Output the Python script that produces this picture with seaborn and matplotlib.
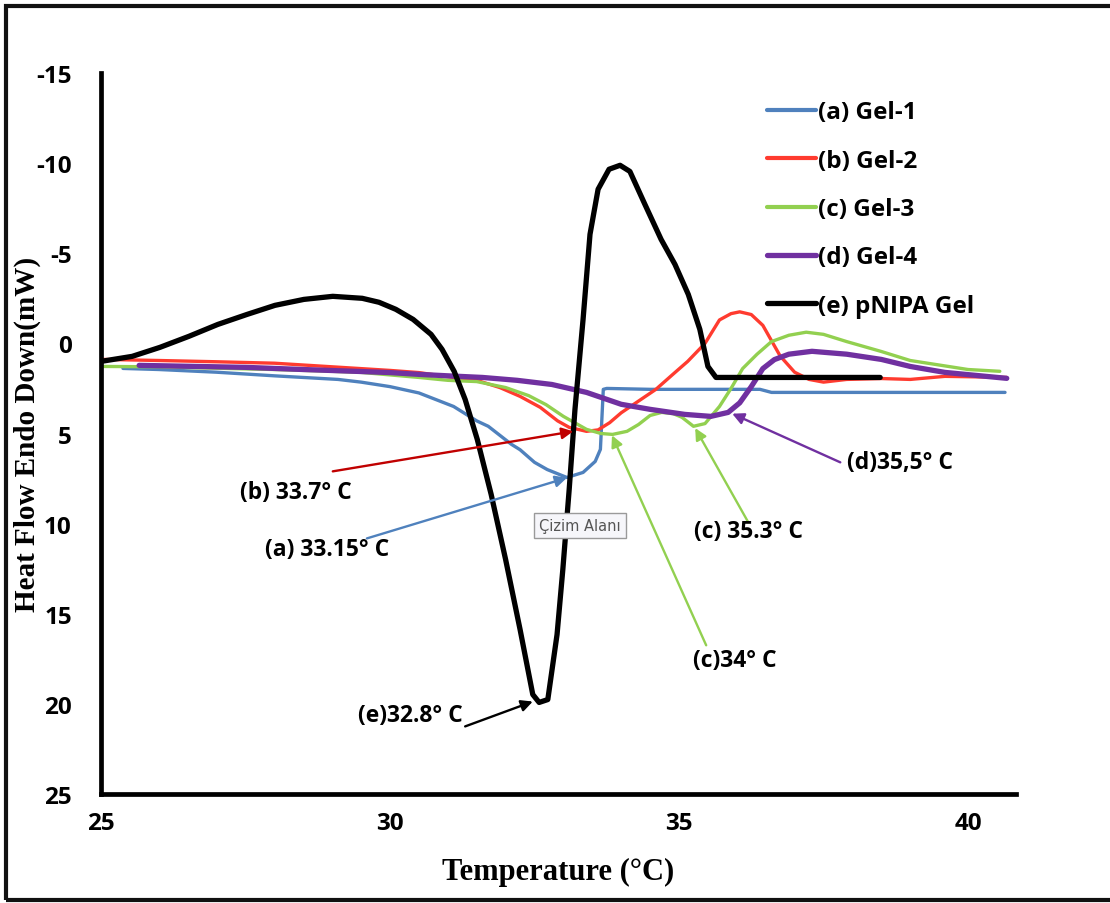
import matplotlib
matplotlib.use("Agg")
import matplotlib.pyplot as plt
import seaborn as sns
from matplotlib.patches import Rectangle

# ---- DSC thermograms: temperature (°C) vs heat flow (mW), endo down ----
temp_a = [25.38, 26.0, 27.0, 28.0, 29.1, 29.5, 30.0, 30.5, 31.1, 31.5, 31.7, 32.1,
          32.25, 32.5, 32.72, 33.06, 33.34, 33.55, 33.64, 33.69, 33.75, 34.5, 36.4,
          36.6, 40.64]
flow_a = [1.39, 1.45, 1.6, 1.8, 2.0, 2.15, 2.4, 2.75, 3.5, 4.3, 4.6, 5.6,
          5.9, 6.6, 7.0, 7.44, 7.16, 6.55, 5.88, 2.55, 2.5, 2.55, 2.55,
          2.72, 2.72]

temp_b = [25.05, 26.0, 27.0, 28.0, 29.0, 30.0, 30.5, 31.0, 31.5, 31.9, 32.25, 32.6,
          32.9, 33.1, 33.4, 33.6, 33.8, 34.0, 34.3, 34.6, 34.9, 35.15, 35.45, 35.7,
          35.9, 36.05, 36.25, 36.45, 36.75, 37.0, 37.25, 37.5, 37.9, 38.5, 39.0,
          39.6, 40.0, 40.67]
flow_b = [0.89, 0.95, 1.02, 1.1, 1.3, 1.5, 1.62, 1.85, 2.05, 2.45, 2.94, 3.55,
          4.3, 4.66, 4.88, 4.8, 4.4, 3.85, 3.2, 2.55, 1.7, 1.0, 0.0, -1.3,
          -1.65, -1.75, -1.6, -1.0, 0.7, 1.6, 2.0, 2.15, 2.0, 1.95, 2.0,
          1.83, 1.85, 1.89]

temp_c = [25.05, 26.0, 27.0, 28.0, 29.0, 29.5, 30.0, 30.5, 31.0, 31.5, 32.0, 32.4,
          32.7, 33.0, 33.4, 33.65, 33.85, 34.1, 34.3, 34.5, 34.7, 34.9, 35.05,
          35.25, 35.45, 35.7, 35.9, 36.1, 36.35, 36.6, 36.9, 37.2, 37.5, 37.9,
          38.5, 39.0, 39.5, 40.0, 40.55]
flow_c = [1.28, 1.3, 1.38, 1.45, 1.55, 1.61, 1.75, 1.89, 2.05, 2.12, 2.45, 2.9,
          3.4, 4.05, 4.77, 5.0, 5.05, 4.88, 4.5, 4.0, 3.83, 3.9, 4.1,
          4.6, 4.45, 3.5, 2.5, 1.4, 0.6, -0.1, -0.45, -0.62, -0.5, -0.1,
          0.45, 0.95, 1.2, 1.45, 1.55]

temp_d = [25.66, 26.5, 27.5, 28.5, 29.4, 30.0, 30.5, 31.0, 31.6, 32.2, 32.8, 33.4,
          34.0, 34.5, 35.1, 35.55, 35.85, 36.05, 36.25, 36.45, 36.65, 36.9, 37.3,
          37.9, 38.5, 39.0, 39.6, 40.67]
flow_d = [1.22, 1.27, 1.33, 1.45, 1.55, 1.62, 1.72, 1.8, 1.89, 2.05, 2.28, 2.72,
          3.38, 3.66, 3.94, 4.05, 3.83, 3.3, 2.4, 1.4, 0.9, 0.6, 0.44,
          0.6, 0.89, 1.28, 1.61, 1.94]

temp_e = [25.0, 25.54, 26.02, 26.52, 27.02, 27.53, 28.01, 28.51, 29.01, 29.52, 29.81,
          30.10, 30.40, 30.71, 30.90, 31.11, 31.30, 31.51, 31.75, 32.0, 32.25, 32.47,
          32.58, 32.73, 32.89, 32.99, 33.10, 33.20, 33.34, 33.46, 33.60, 33.79, 33.98,
          34.15, 34.41, 34.69, 34.93, 35.16, 35.36, 35.50, 35.64, 38.48]
flow_e = [1.0, 0.72, 0.22, -0.39, -1.05, -1.61, -2.11, -2.44, -2.61, -2.5, -2.28,
          -1.89, -1.33, -0.5, 0.33, 1.55, 3.11, 5.33, 8.38, 11.99, 15.87, 19.48,
          19.92, 19.76, 16.15, 12.54, 8.1, 3.66, -1.33, -6.05, -8.55, -9.66, -9.88,
          -9.54, -7.71, -5.77, -4.38, -2.72, -0.78, 1.28, 1.89, 1.89]

labels = ["(a) Gel-1", "(b) Gel-2", "(c) Gel-3", "(d) Gel-4", "(e) pNIPA Gel"]
colors = ["#4F81BD", "#FF3B2F", "#92D050", "#7030A0", "#000000"]
widths = [2.4, 2.4, 2.4, 3.8, 3.8]

x_ticks = [25, 30, 35, 40]
y_ticks = [-15, -10, -5, 0, 5, 10, 15, 20, 25]

# transition-temperature callouts: text, text centre, line start, arrow tip, colour
callouts = [
    ("(b) 33.7° C", (28.37, 8.27), (29.01, 7.10), (33.17, 4.88), "#C00000"),
    ("(a) 33.15° C", (28.91, 11.43), (29.60, 10.82), (33.06, 7.46), "#4F81BD"),
    ("(e)32.8° C", (30.35, 20.59), (31.30, 21.25), (32.47, 19.87), "#000000"),
    ("(c)34° C", (35.97, 17.54), (35.47, 16.75), (33.84, 5.10), "#92D050"),
    ("(c) 35.3° C", (36.21, 10.43), (36.19, 9.88), (35.28, 4.70), "#92D050"),
    ("(d)35,5° C", (38.82, 6.6), (37.79, 6.6), (35.92, 3.90), "#7030A0"),
]

sns.set_theme(style="white")
sans = ["Open Sans", "DejaVu Sans"]
plt.rcParams["font.family"] = sans
plt.rcParams["font.weight"] = "bold"

fig = plt.figure(figsize=(11.1, 9.04), dpi=100)
ax = fig.add_axes([101 / 1110, 1 - 795 / 904, 915 / 1110, 721 / 904])

series = [(temp_a, flow_a), (temp_b, flow_b), (temp_c, flow_c),
          (temp_d, flow_d), (temp_e, flow_e)]
for (xs, ys), lab, col, lw in zip(series, labels, colors, widths):
    sns.lineplot(x=xs, y=ys, ax=ax, color=col, linewidth=lw, label=lab,
                 sort=False, estimator=None)

ax.set_xlim(25, 40.83)
ax.set_ylim(25, -15)
ax.set_xticks(x_ticks)
ax.set_xticklabels([str(v) for v in x_ticks])
ax.set_yticks(y_ticks)
ax.set_yticklabels([str(v) for v in y_ticks])

for side in ["top", "right"]:
    ax.spines[side].set_visible(False)
for side in ["left", "bottom"]:
    ax.spines[side].set_color("black")
    ax.spines[side].set_linewidth(3.4)

ax.tick_params(axis="x", direction="out", length=6, width=3, color="black",
               pad=6, labelsize=17.5)
ax.tick_params(axis="y", length=0, pad=21, labelsize=17.5)
for t in ax.get_xticklabels() + ax.get_yticklabels():
    t.set_fontweight("bold")
    t.set_fontfamily(sans)
    t.set_color("black")

ax.set_xlabel("Temperature (°C)", family="Liberation Serif", fontweight="bold",
              fontsize=22, color="black")
ax.xaxis.set_label_coords(0.5, -0.087)
ax.set_ylabel("Heat Flow Endo Down(mW)", family="Liberation Serif",
              fontweight="bold", fontsize=21, color="black")
ax.yaxis.set_label_coords(-0.066, 0.5)

leg = ax.legend(loc="upper left", bbox_to_anchor=(0.728, 0.962), frameon=False,
                prop={"family": sans, "weight": "bold", "size": 17.5},
                handlelength=2.0, handletextpad=0.1, labelspacing=1.0,
                borderpad=0, borderaxespad=0)
for txt in leg.get_texts():
    txt.set_color("black")
for h, lw in zip(leg.get_lines(), widths):
    h.set_linewidth(max(lw, 3.0))

for text, tpos, start, tip, col in callouts:
    ax.annotate("", xy=tip, xytext=start,
                arrowprops=dict(arrowstyle="-|>", color=col, lw=1.7,
                                mutation_scale=17, shrinkA=0, shrinkB=0))
    ax.text(tpos[0], tpos[1], text, ha="center", va="center", fontsize=16.5,
            fontweight="bold", family=sans, color="black")

# hover tooltip left on the plot area
ax.text(33.29, 10.1, "Çizim Alanı", ha="center", va="center", fontsize=10.5,
        family="DejaVu Sans", fontweight="normal", color="#555555",
        bbox=dict(boxstyle="square,pad=0.35", fc="#F6F6FA", ec="#9A9A9A", lw=1))

# outer frame around the figure
fig.patches.append(Rectangle((6 / 1110, 1 - 901 / 904), 1.05, 894 / 904,
                             transform=fig.transFigure, fill=False,
                             lw=3, edgecolor="#111111"))

fig.savefig("out.png", dpi=100, facecolor="white")
